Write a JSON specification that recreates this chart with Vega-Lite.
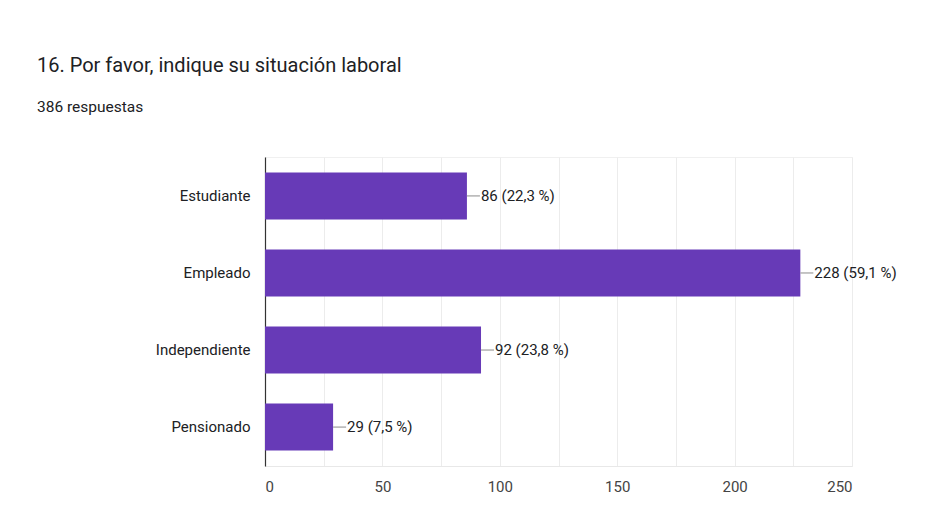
{
  "$schema": "https://vega.github.io/schema/vega-lite/v6.json",
  "autosize": "none",
  "width": 587,
  "height": 309,
  "padding": {"left": 265, "top": 157, "right": 90, "bottom": 54},
  "background": "white",
  "title": {
    "text": "16. Por favor, indique su situación laboral",
    "subtitle": "386 respuestas",
    "anchor": "start",
    "frame": "group",
    "dx": -228,
    "offset": 42,
    "font": "Roboto",
    "fontSize": 20,
    "fontWeight": "normal",
    "color": "#202124",
    "subtitleFont": "Roboto",
    "subtitleFontSize": 15.5,
    "subtitleColor": "#202124",
    "subtitlePadding": 24
  },
  "data": {
    "values": [
      {"situacion": "Estudiante", "n": 86, "etiqueta": "86 (22,3 %)"},
      {"situacion": "Empleado", "n": 228, "etiqueta": "228 (59,1 %)"},
      {"situacion": "Independiente", "n": 92, "etiqueta": "92 (23,8 %)"},
      {"situacion": "Pensionado", "n": 29, "etiqueta": "29 (7,5 %)"}
    ]
  },
  "encoding": {
    "y": {
      "field": "situacion",
      "type": "nominal",
      "sort": null,
      "title": null,
      "scale": {"paddingInner": 0.39, "paddingOuter": 0.2},
      "axis": {
        "domain": true,
        "domainColor": "#333333",
        "domainWidth": 1.2,
        "ticks": false,
        "labelPadding": 15,
        "labelFont": "Roboto",
        "labelFontSize": 15,
        "labelColor": "#202124"
      }
    }
  },
  "layer": [
    {
      "mark": {"type": "bar", "color": "#673ab7"},
      "encoding": {
        "x": {
          "field": "n",
          "type": "quantitative",
          "title": null,
          "scale": {"domain": [0, 250], "nice": false},
          "axis": {
            "values": [0, 25, 50, 75, 100, 125, 150, 175, 200, 225, 250],
            "labelExpr": "datum.value % 50 == 0 ? datum.label : ''",
            "domain": true,
            "domainColor": "#e8e8e8",
            "ticks": false,
            "grid": true,
            "gridColor": "#ececec",
            "labelPadding": 13,
            "labelFont": "Roboto",
            "labelFontSize": 15,
            "labelColor": "#444444"
          }
        }
      }
    },
    {
      "mark": {"type": "rule", "color": "#9e9e9e", "x2Offset": 13, "strokeWidth": 1.2},
      "encoding": {
        "x": {"field": "n", "type": "quantitative"},
        "x2": {"field": "n"}
      }
    },
    {
      "mark": {"type": "text", "align": "left", "baseline": "middle", "dx": 14, "font": "Roboto", "fontSize": 15, "color": "#202124"},
      "encoding": {
        "x": {"field": "n", "type": "quantitative"},
        "text": {"field": "etiqueta"}
      }
    }
  ],
  "config": {"view": {"stroke": "#f0f0f0"}}
}
